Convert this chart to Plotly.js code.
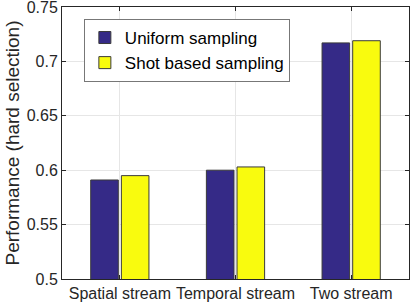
<!DOCTYPE html>
<html><head><meta charset="utf-8">
<script src="https://cdn.plot.ly/plotly-3.0.1.min.js"></script>
<style>html,body{margin:0;padding:0;background:#fff}#c{width:411px;height:303px}</style>
</head><body><div id="c"></div>
<script>
const categories = ["Spatial stream", "Temporal stream", "Two stream"];
const uniformSampling = [0.591, 0.600, 0.717];
const shotBasedSampling = [0.595, 0.603, 0.719];
const yTicks = [0.5, 0.55, 0.6, 0.65, 0.7, 0.75];
const yTickLabels = ["0.5", "0.55", "0.6", "0.65", "0.7", "0.75"];

const fam = "Liberation Sans, Arial, sans-serif";
const data = [
  {type: "bar", x: categories, y: uniformSampling, name: "Uniform sampling",
   marker: {color: "#352a87", line: {color: "#3a3a3a", width: 1}}},
  {type: "bar", x: categories, y: shotBasedSampling, name: "Shot based sampling",
   marker: {color: "#f9fb0e", line: {color: "#3a3a3a", width: 1}}}
];
const layout = {
  width: 411, height: 303,
  margin: {l: 62, r: 2, t: 7, b: 24},
  paper_bgcolor: "#fff", plot_bgcolor: "#fff",
  font: {family: fam, size: 16, color: "#262626"},
  barmode: "group", bargap: 0.47, bargroupgap: 0.1,
  showlegend: true,
  legend: {x: 0.063, y: 0.956, xanchor: "left", yanchor: "top",
    bgcolor: "#fff", bordercolor: "#777", borderwidth: 1,
    font: {family: fam, size: 17, color: "#000"},
    tracegroupgap: 0, itemwidth: 30},
  xaxis: {range: [-0.5, 2.5], showgrid: true, gridcolor: "#e6e6e6",
    showline: true, linecolor: "#262626", linewidth: 1, mirror: "ticks",
    ticks: "inside", ticklen: 4, tickcolor: "#262626",
    tickfont: {family: fam, size: 16, color: "#262626"}},
  yaxis: {range: [0.5, 0.75], tickvals: yTicks, ticktext: yTickLabels,
    ticklabeloverflow: "allow",
    showgrid: true, gridcolor: "#e6e6e6", zeroline: false,
    showline: true, linecolor: "#262626", linewidth: 1, mirror: "ticks",
    ticks: "inside", ticklen: 4, tickcolor: "#262626",
    tickfont: {family: fam, size: 16, color: "#262626"},
    title: {text: "Performance (hard selection)", standoff: 2,
      font: {family: fam, size: 19, color: "#262626"}}}
};
Plotly.newPlot("c", data, layout, {staticPlot: true});
</script></body></html>
